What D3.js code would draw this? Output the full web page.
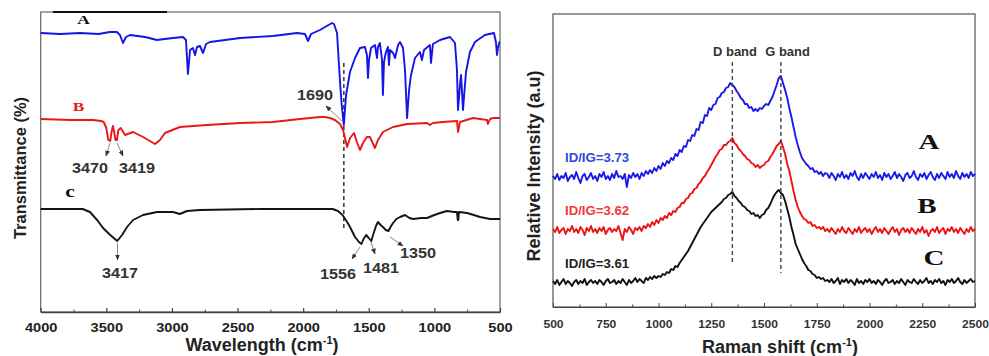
<!DOCTYPE html>
<html>
<head>
<meta charset="utf-8">
<script src="https://cdn.jsdelivr.net/npm/d3@7/dist/d3.min.js"></script>
<style>
  body { margin: 0; background: #fff; }
  svg { display: block; font-family: Arial, "Liberation Sans", sans-serif; }
</style>
</head>
<body>
<svg id="chart" width="989" height="356"></svg>
<script>
// ---------- FTIR spectra: [wavenumber (cm-1), transmittance (a.u., stacked)] ----------
const ftirA = [
  [4000,279],[3850,278],[3700,279],[3560,278],[3472,280],[3419,280],[3396,277],[3373,269],[3350,275],[3320,277],
  [3205,275],[3114,272],[2992,274],[2916,275],[2893,272],[2878,238],[2862,262],[2840,264],[2824,257],[2809,265],
  [2786,266],[2763,259],[2740,268],[2710,270],[2481,274],[2230,276],[2047,279],[1986,278],[1963,271],[1940,278],
  [1872,282],[1780,289],[1765,288],[1742,279],[1719,230],[1705,205],[1690,187],[1673,217],[1643,240],[1605,254],
  [1567,264],[1529,265],[1514,257],[1506,234],[1498,252],[1483,264],[1453,267],[1437,254],[1430,265],[1415,269],
  [1399,252],[1392,217],[1384,250],[1369,260],[1354,265],[1346,247],[1338,262],[1315,259],[1300,254],[1277,267],
  [1262,270],[1239,264],[1224,242],[1208,194],[1193,222],[1178,237],[1148,254],[1110,260],[1095,252],[1079,262],
  [1034,267],[1026,249],[1011,268],[957,272],[881,275],[843,269],[828,242],[820,202],[805,227],[797,237],
  [790,222],[782,202],[767,227],[759,240],[729,260],[691,270],[615,277],[546,279],[531,270],[523,257],
  [516,264],[504,270],[500,270]
];
const ftirB = [
  [4000,193],[3777,192],[3600,192],[3540,191],[3520,190],[3500,184],[3485,172],[3470,171],[3460,180],[3450,186],
  [3440,180],[3430,172],[3419,172],[3408,182],[3390,184],[3357,177],[3296,180],[3220,175],[3129,168],[3091,172],
  [3053,179],[2939,185],[2733,187],[2481,189],[2230,190],[2024,193],[1872,195],[1834,195],[1796,194],[1758,192],
  [1719,188],[1696,182],[1665,165],[1643,174],[1612,179],[1590,170],[1567,162],[1544,169],[1514,175],[1491,175],
  [1453,164],[1430,172],[1392,180],[1315,185],[1208,188],[1056,189],[1034,187],[1011,189],[935,190],[828,191],
  [820,180],[805,190],[706,194],[599,192],[592,188],[576,193],[553,194],[500,194]
];
const ftirC = [
  [4000,103],[3680,103],[3625,100],[3570,92],[3525,84],[3470,77],[3417,71],[3380,77],[3342,85],[3296,92],
  [3220,97],[3114,100],[2992,100],[2940,98],[2885,101],[2786,102],[2330,103],[1775,103],[1735,101],[1700,97],
  [1665,90],[1643,85],[1605,75],[1575,70],[1556,68],[1540,73],[1520,77],[1500,74],[1481,71],[1465,78],
  [1445,86],[1430,90],[1410,87],[1392,85],[1370,82],[1350,81],[1330,86],[1315,89],[1290,93],[1262,95],
  [1224,97],[1190,94],[1163,93],[1100,94],[1056,94],[1000,97],[957,99],[904,101],[850,100],[828,100],
  [822,92],[818,92],[813,100],[751,99],[700,97],[652,95],[576,93],[500,93]
];
const ftirNames = ["A", "B", "c"];
const ftirTicks = [4000, 3500, 3000, 2500, 2000, 1500, 1000, 500];
const ftirMinorTicks = [3750, 3250, 2750, 2250, 1750, 1250, 750];
// assigned bands (cm-1)
const ftirPeaks = [1690, 3470, 3419, 3417, 1556, 1481, 1350];
const ftirRefLine = { at: 1690, from: 84, to: 249 };

// ---------- Raman spectra: intensity (a.u., stacked) every 10 cm-1 from 500 to 2500 ----------
const ramanShift = d3.range(500, 2501, 10);
const ramanA = [
  131,128,133,127,131,129,134,126,130,132, 128,135,129,124,131,133,127,130,134,128,
  131,126,133,130,135,128,131,127,133,129, 136,130,131,128,133,120,132,129,134,130,
  133,128,134,131,136,133,137,134,139,136, 141,138,144,141,146,144,149,147,153,151,
  157,155,161,160,167,166,172,171,178,177, 185,184,192,191,199,197,202,203,209,210,
  214,215,219,220,224,222,220,216,213,209, 207,203,203,199,200,196,198,196,199,198,
  201,203,202,206,210,216,222,229,231,224, 217,209,199,190,180,170,162,155,149,146,
  143,141,138,139,135,136,133,135,131,134, 133,129,134,131,127,133,130,135,129,132,
  128,134,131,136,130,127,133,129,134,131, 128,133,130,135,129,132,127,134,130,133,
  128,131,135,129,133,130,126,132,134,129, 131,136,130,127,133,130,134,128,132,135,
  130,127,133,129,134,131,128,135,130,133, 129,136,131,128,134,130,133,129,135,131,
  133
];
const ramanB = [
  78,75,80,74,77,79,73,78,76,81, 75,78,74,80,77,72,79,76,81,75,
  78,74,79,76,80,73,77,79,75,78, 76,81,74,67,78,75,80,77,73,79,
  77,80,76,81,79,83,80,85,82,87, 84,89,87,91,89,94,92,96,95,99,
  100,104,104,108,109,113,114,118,119,123, 125,129,131,135,138,142,146,150,153,157,
  158,162,162,165,166,169,164,162,158,156, 153,151,148,147,144,143,140,142,139,141,
  142,145,146,150,153,157,161,163,166,160, 153,143,136,126,116,107,100,95,91,88,
  87,84,85,81,82,79,80,78,80,76, 78,75,79,76,73,78,75,80,76,74,
  79,76,73,78,75,80,74,77,79,75, 78,73,77,80,75,78,74,79,76,73,
  77,80,75,78,72,77,79,75,78,74, 79,76,73,78,75,80,74,77,71,76,
  78,75,80,74,77,79,73,78,76,80, 75,78,74,79,76,73,78,75,80,76,
  78
];
const ramanC = [
  26,23,27,22,25,28,23,26,24,21, 25,27,23,26,24,28,22,25,27,24,
  26,23,27,25,22,26,28,24,25,27, 23,26,24,28,25,22,27,24,26,29,
  25,28,26,24,29,27,30,28,31,29, 31,30,33,32,35,34,38,37,41,40,
  44,47,50,53,56,60,64,68,72,76, 80,83,86,89,92,95,97,99,101,103,
  105,108,109,112,113,115,111,109,106,104, 101,100,97,96,93,94,91,92,89,92,
  93,97,99,103,108,112,115,117,114,112, 106,98,90,80,72,63,58,53,48,44,
  41,37,36,33,32,29,30,28,29,26, 27,25,28,24,26,29,23,27,25,28,
  24,27,25,22,28,24,26,23,27,25, 28,24,26,23,27,25,22,26,28,24,
  25,27,23,26,24,28,25,22,27,25, 24,28,25,23,27,24,26,29,24,26,
  23,27,25,28,24,26,22,27,25,28, 24,26,29,25,23,27,24,26,28,25,
  26
];
const ramanNames = ["A", "B", "C"];
const ramanRatios = ["ID/IG=3.73", "ID/IG=3.62", "ID/IG=3.61"];
const ramanTicks = [500, 750, 1000, 1250, 1500, 1750, 2000, 2250, 2500];
const ramanMinorTicks = [625, 875, 1125, 1375, 1625, 1875, 2125, 2375];
const ramanBands = [{ name: "D band", at: 1350, to: 44 }, { name: "G band", at: 1580, to: 34 }];

// ---------- drawing ----------
const svg = d3.select("#chart");
const defs = svg.append("defs");
defs.append("marker").attr("id", "head")
  .attr("viewBox", "0 0 10 10").attr("refX", 9).attr("refY", 5)
  .attr("markerWidth", 6).attr("markerHeight", 6).attr("orient", "auto")
  .append("path").attr("d", "M0,1L10,5L0,9z").attr("fill", "#333");

function stretchedText(g, x, y, txt, size, sx, opts = {}) {
  return g.append("text")
    .attr("transform", `translate(${x},${y}) scale(${sx},1)`)
    .attr("text-anchor", opts.anchor || "middle")
    .attr("font-size", size)
    .attr("font-weight", opts.weight || "bold")
    .attr("font-family", opts.family || "Arial, 'Liberation Sans', sans-serif")
    .attr("fill", opts.fill || "#222")
    .text(txt);
}
const plain = d3.format("d");

// ===== left panel: FTIR =====
const L = { left: 40.7, right: 500, top: 12, bottom: 312 };
const xF = d3.scaleLinear().domain([4000, 500]).range([L.left, L.right]);
const yF = d3.scaleLinear().domain([0, 300]).range([L.bottom, L.top]);
const gL = svg.append("g");

gL.append("rect").attr("x", L.left).attr("y", L.top)
  .attr("width", L.right - L.left).attr("height", L.bottom - L.top)
  .attr("fill", "none").attr("stroke", "#666").attr("stroke-width", 1.2);
gL.append("line").attr("x1", 53).attr("x2", 167).attr("y1", L.top).attr("y2", L.top)
  .attr("stroke", "#111").attr("stroke-width", 2.2);

const axF = gL.append("g").attr("transform", `translate(0,${L.bottom})`)
  .call(d3.axisBottom(xF).tickValues(ftirTicks).tickFormat(plain)
    .tickSizeInner(-4).tickSizeOuter(0).tickPadding(11.5));
axF.select(".domain").attr("stroke", "#444").attr("stroke-width", 1.4);
axF.selectAll(".tick line").attr("stroke", "#444").attr("stroke-width", 1.2);
axF.selectAll(".tick text").attr("font-size", 12).attr("font-weight", "bold")
  .attr("fill", "#222").attr("font-family", "Arial, 'Liberation Sans', sans-serif")
  .attr("transform", "scale(1.22,1)");
const axFm = gL.append("g").attr("transform", `translate(0,${L.bottom})`)
  .call(d3.axisBottom(xF).tickValues(ftirMinorTicks).tickSizeInner(-2.5).tickSizeOuter(0).tickFormat(""));
axFm.select(".domain").remove();
axFm.selectAll(".tick line").attr("stroke", "#444");

// reference dashed line at the C=O band
gL.append("line")
  .attr("x1", xF(ftirRefLine.at)).attr("x2", xF(ftirRefLine.at))
  .attr("y1", yF(ftirRefLine.to)).attr("y2", yF(ftirRefLine.from))
  .attr("stroke", "#333").attr("stroke-width", 1.5).attr("stroke-dasharray", "4,3");

const lineF = d3.line().x(d => xF(d[0])).y(d => yF(d[1]));
[[ftirA, "#1414e6"], [ftirB, "#e81818"], [ftirC, "#141414"]].forEach(([data, col]) => {
  gL.append("path").datum(data).attr("d", lineF)
    .attr("fill", "none").attr("stroke", col).attr("stroke-width", 1.9)
    .attr("stroke-linejoin", "round");
});

// curve names
const nameStyle = { family: "'Liberation Serif', 'Times New Roman', serif" };
stretchedText(gL, 83.5, 24, ftirNames[0], 12, 1.45, { ...nameStyle, fill: "#111" });
stretchedText(gL, 78.5, 110.5, ftirNames[1], 12, 1.45, { ...nameStyle, fill: "#e81818" });
stretchedText(gL, 70, 197, ftirNames[2], 16, 1.35, { ...nameStyle, fill: "#111" });

// band annotations: label centre and arrow (from curve towards label)
const peakLayout = {
  1690: { lx: 315, ly: 100, a: [342, 121, 326, 106] },
  3470: { lx: 90,  ly: 173, a: [110, 143, 106, 156] },
  3419: { lx: 137, ly: 173, a: [117, 143, 123, 156] },
  3417: { lx: 120, ly: 278, a: [117.5, 243, 117.5, 260] },
  1556: { lx: 338, ly: 279, a: [360, 247, 352, 259] },
  1481: { lx: 381, ly: 273, a: [371, 242, 375, 254] },
  1350: { lx: 418, ly: 258, a: [390, 237, 403, 246] }
};
ftirPeaks.forEach(p => {
  const o = peakLayout[p];
  gL.append("line").attr("x1", o.a[0]).attr("y1", o.a[1]).attr("x2", o.a[2]).attr("y2", o.a[3])
    .attr("stroke", "#8a8a8a").attr("stroke-width", 1).attr("marker-end", "url(#head)");
  stretchedText(gL, o.lx, o.ly, String(p), 15, 1.08, { fill: "#333" });
});

// axis titles
const tW = gL.append("text").attr("x", 262).attr("y", 351)
  .attr("text-anchor", "middle").attr("font-size", 18).attr("font-weight", "bold").attr("fill", "#222");
tW.append("tspan").text("Wavelength (cm");
tW.append("tspan").attr("font-size", 11).attr("dy", -7).text("-1");
tW.append("tspan").attr("dy", 7).text(")");
gL.append("text").attr("transform", "translate(26,168) rotate(-90)")
  .attr("text-anchor", "middle").attr("font-size", 16.5).attr("font-weight", "bold").attr("fill", "#222")
  .text("Transmittance (%)");

// ===== right panel: Raman =====
const R = { left: 553, right: 975, top: 14, bottom: 307 };
const xR = d3.scaleLinear().domain([500, 2500]).range([R.left, R.right]);
const yR = d3.scaleLinear().domain([0, 293]).range([R.bottom, R.top]);
const gR = svg.append("g");

gR.append("rect").attr("x", R.left).attr("y", R.top)
  .attr("width", R.right - R.left).attr("height", R.bottom - R.top)
  .attr("fill", "none").attr("stroke", "#555").attr("stroke-width", 1.2);

const axR = gR.append("g").attr("transform", `translate(0,${R.bottom})`)
  .call(d3.axisBottom(xR).tickValues(ramanTicks).tickFormat(plain)
    .tickSizeInner(-4).tickSizeOuter(0).tickPadding(13.5));
axR.select(".domain").attr("stroke", "#444").attr("stroke-width", 1.2);
axR.selectAll(".tick line").attr("stroke", "#444");
axR.selectAll(".tick text").attr("font-size", 10.5).attr("font-weight", "bold")
  .attr("fill", "#333").attr("font-family", "Arial, 'Liberation Sans', sans-serif")
  .attr("transform", "scale(1.15,1)");
const axRm = gR.append("g").attr("transform", `translate(0,${R.bottom})`)
  .call(d3.axisBottom(xR).tickValues(ramanMinorTicks).tickSizeInner(-2.5).tickSizeOuter(0).tickFormat(""));
axRm.select(".domain").remove();
axRm.selectAll(".tick line").attr("stroke", "#444");

const lineR = d3.line().x((d, i) => xR(ramanShift[i])).y(d => yR(d));
[[ramanA, "#1a1ae8"], [ramanB, "#ee1212"], [ramanC, "#111"]].forEach(([data, col]) => {
  gR.append("path").datum(data).attr("d", lineR)
    .attr("fill", "none").attr("stroke", col).attr("stroke-width", 1.9)
    .attr("stroke-linejoin", "round");
});

// D and G band guides
ramanBands.forEach(b => {
  gR.append("line").attr("x1", xR(b.at)).attr("x2", xR(b.at))
    .attr("y1", 62).attr("y2", yR(b.to))
    .attr("stroke", "#444").attr("stroke-width", 1.4).attr("stroke-dasharray", "4,3");
});
stretchedText(gR, 735, 56, ramanBands[0].name, 12, 1.08, { fill: "#333" });
stretchedText(gR, 787.5, 56, ramanBands[1].name, 12, 1.08, { fill: "#333" });

// intensity ratios and sample names
const ratioCols = ["#3347d9", "#f03a3a", "#222"];
const ratioY = [162, 215, 268];
ramanRatios.forEach((t, i) => {
  stretchedText(gR, 565, ratioY[i], t, 12, 1.1, { anchor: "start", fill: ratioCols[i] });
});
const nameY = [149, 213, 265];
const nameX = [929, 927, 934];
ramanNames.forEach((n, i) => {
  stretchedText(gR, nameX[i], nameY[i], n, 20, 1.45, { ...nameStyle, fill: "#111" });
});

const tR = gR.append("text").attr("x", 780).attr("y", 353)
  .attr("text-anchor", "middle").attr("font-size", 18).attr("font-weight", "bold").attr("fill", "#222");
tR.append("tspan").text("Raman shift (cm");
tR.append("tspan").attr("font-size", 11).attr("dy", -7).text("-1");
tR.append("tspan").attr("dy", 7).text(")");
gR.append("text").attr("transform", "translate(540,166) rotate(-90)")
  .attr("text-anchor", "middle").attr("font-size", 18).attr("font-weight", "bold").attr("fill", "#222")
  .text("Relative Intensity (a.u)");
</script>
</body>
</html>
